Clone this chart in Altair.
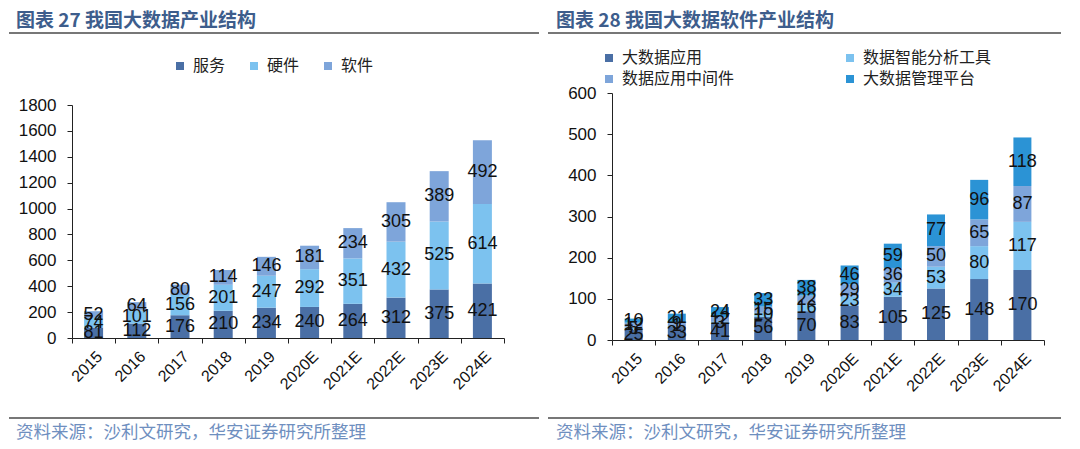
import altair as alt
import pandas as pd

years = ["2015", "2016", "2017", "2018", "2019", "2020E", "2021E", "2022E", "2023E", "2024E"]

# 图表27 我国大数据产业结构
ind_series = ["服务", "硬件", "软件"]
service = [81, 112, 176, 210, 234, 240, 264, 312, 375, 421]
hardware = [74, 101, 156, 201, 247, 292, 351, 432, 525, 614]
software = [52, 64, 80, 114, 146, 181, 234, 305, 389, 492]
ind_colors = ["#4a6fa5", "#7cc2ef", "#7ea5da"]

# 图表28 我国大数据软件产业结构
sw_series = ["大数据应用", "数据智能分析工具", "数据应用中间件", "大数据管理平台"]
app = [25, 33, 41, 56, 70, 83, 105, 125, 148, 170]
tools = [5, 1, 3, 10, 16, 23, 34, 53, 80, 117]
middleware = [12, 9, 12, 15, 22, 29, 36, 50, 65, 87]
platform = [10, 21, 24, 33, 38, 46, 59, 77, 96, 118]
sw_colors = ["#4a6fa5", "#7cc2ef", "#7ea5da", "#2b93d5"]

left_title = "图表 27 我国大数据产业结构"
right_title = "图表 28 我国大数据软件产业结构"
source = "资料来源：沙利文研究，华安证券研究所整理"

CJK = "Noto Sans CJK SC"
NUM = "Liberation Sans"
TITLE_COLOR = "#3d5d8c"
SRC_COLOR = "#6f8fbf"


def make_df(series, cols):
    rows = []
    for si, (name, vals) in enumerate(zip(series, cols)):
        for y, v in zip(years, vals):
            rows.append({"year": y, "series": name, "idx": si, "value": v})
    return pd.DataFrame(rows)


def panel(df, series, colors, ymax, ystep, width, height, ytop, barsize, legend,
          title, title_y, rule_x1, rule_x2, rule_y, bottom_y, src_y, text_x):
    base = alt.Chart(df).transform_stack(
        stack="value", groupby=["year"],
        sort=[alt.SortField("idx", order="ascending")],
        as_=["v0", "v1"],
    ).transform_calculate(mid="(datum.v0 + datum.v1) / 2")

    xaxis = alt.Axis(labelAngle=-45, tickBand="extent", tickSize=5, labelPadding=5,
                     labelFont=NUM, labelFontSize=16, labelColor="#111",
                     domainColor="#222", tickColor="#222", title=None)
    yaxis = alt.Axis(values=list(range(0, ymax + 1, ystep)), format="d", tickSize=5,
                     labelPadding=11, labelFont=NUM, labelFontSize=17, labelColor="#111",
                     domainColor="#222", tickColor="#222", grid=False, title=None)
    xenc = alt.X("year:N", sort=years, axis=xaxis,
                 scale=alt.Scale(paddingInner=0, paddingOuter=0))
    yscale = alt.Scale(domain=[0, ymax], nice=False, range=[height, ytop])

    bars = base.mark_bar(size=barsize).encode(
        x=xenc,
        y=alt.Y("v0:Q", scale=yscale, axis=yaxis),
        y2="v1:Q",
        color=alt.Color("series:N", scale=alt.Scale(domain=series, range=colors),
                        legend=legend),
    )
    labels = base.mark_text(font=NUM, fontSize=18, color="#111", baseline="middle").encode(
        x=xenc,
        y=alt.Y("mid:Q", scale=yscale, axis=yaxis),
        text="value:Q",
    )

    one = pd.DataFrame({"t": [title]})
    title_mark = alt.Chart(one).mark_text(
        font=CJK, fontSize=19, fontWeight="bold", color=TITLE_COLOR,
        align="left", baseline="middle",
    ).encode(x=alt.value(text_x), y=alt.value(title_y), text="t:N")
    src_df = pd.DataFrame({"t": [source]})
    src_mark = alt.Chart(src_df).mark_text(
        font=CJK, fontSize=17.5, color=SRC_COLOR, align="left", baseline="middle",
    ).encode(x=alt.value(text_x), y=alt.value(src_y), text="t:N")
    rule_df = pd.DataFrame({"a": [0]})
    top_rule = alt.Chart(rule_df).mark_rule(color="#4a4a4a", strokeWidth=1.5).encode(
        x=alt.value(rule_x1), x2=alt.value(rule_x2), y=alt.value(rule_y))
    bot_rule = alt.Chart(rule_df).mark_rule(color="#4a4a4a", strokeWidth=1.5).encode(
        x=alt.value(rule_x1), x2=alt.value(rule_x2), y=alt.value(bottom_y))

    return alt.layer(bars, labels, title_mark, top_rule, src_mark, bot_rule).properties(
        width=width, height=height)


left_df = make_df(ind_series, [service, hardware, software])
right_df = make_df(sw_series, [app, tools, middleware, platform])

left_legend = alt.Legend(title=None, orient="none", legendX=100, legendY=-35,
                         direction="horizontal", symbolType="square", symbolSize=64,
                         symbolStrokeWidth=0, labelFont=CJK, labelFontSize=16,
                         labelColor="#222", labelOffset=5, columnPadding=20)
right_legend = alt.Legend(title=None, orient="none", legendX=-11, legendY=-43,
                          columns=2, direction="horizontal", symbolType="square",
                          symbolSize=64, symbolStrokeWidth=0, labelFont=CJK,
                          labelFontSize=16, labelColor="#222", labelOffset=5,
                          columnPadding=107, rowPadding=5)

# both panels share a plot origin at the right panel's top (page y ~93)
left = panel(left_df, ind_series, ind_colors, 1800, 200, 432, 245, 12, 19, left_legend,
             left_title, -72, -63, 467, -60, 325, 340, -56)
right = panel(right_df, sw_series, sw_colors, 600, 100, 432, 247, 0, 18, right_legend,
              right_title, -72, -64, 449, -60, 325, 340, -56)

chart = alt.hconcat(left, right, spacing=7).resolve_scale(
    color="independent").resolve_legend(color="independent").properties(
    padding={"left": 0, "top": 4, "right": 0, "bottom": 0},
    background="white",
).configure_view(stroke=None)

chart.save("out.html", embed_options={"renderer": "svg", "actions": False})
